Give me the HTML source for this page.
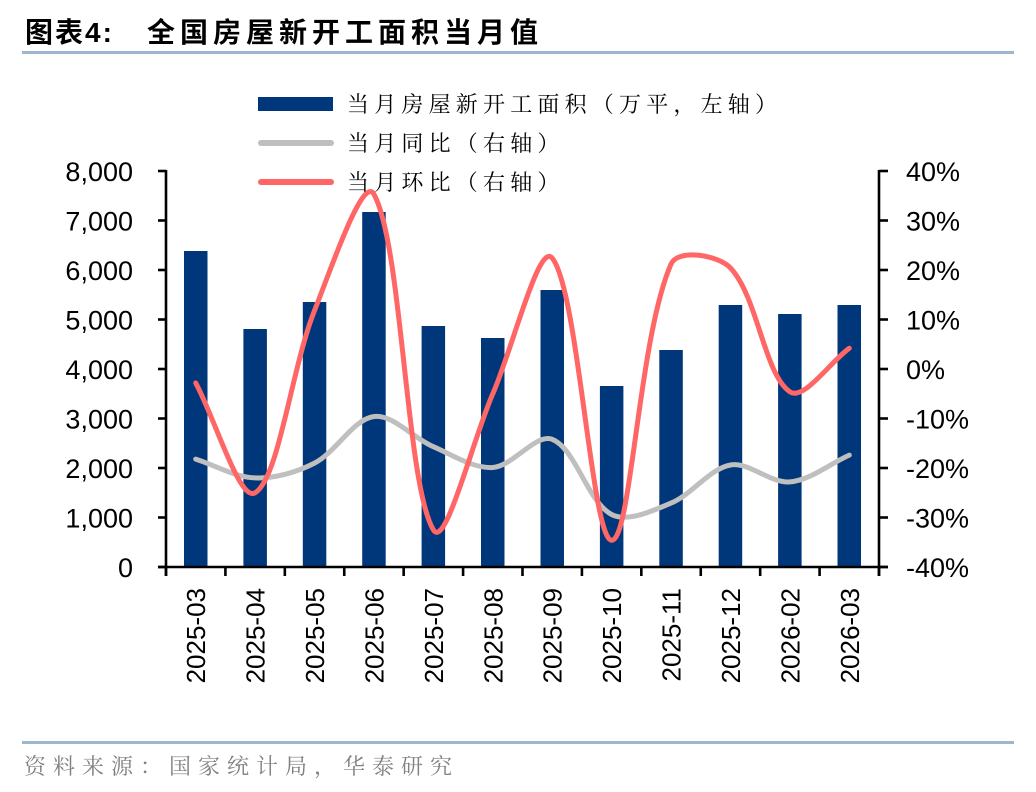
<!DOCTYPE html>
<html>
<head>
<meta charset="utf-8">
<style>
  html,body{margin:0;padding:0;background:#fff;}
  body{width:1036px;height:792px;overflow:hidden;}
  svg{display:block;}
  .ax{font-family:"Liberation Sans",Arial,sans-serif;font-size:27px;fill:#000;}
  .xl{font-family:"Liberation Sans",Arial,sans-serif;font-size:26px;fill:#000;}
  .lg{font-family:"Liberation Serif","Noto Serif CJK SC",serif;font-size:22px;letter-spacing:5.2px;fill:#000;}
  .tt{font-family:"Liberation Sans","Noto Sans CJK SC",sans-serif;font-size:28px;font-weight:700;fill:#000;}
  .src{font-family:"Liberation Serif","Noto Serif CJK SC",serif;font-size:22px;letter-spacing:7px;fill:#808080;}
</style>
</head>
<body>
<svg id="chart" width="1036" height="792" viewBox="0 0 1036 792" xmlns="http://www.w3.org/2000/svg">
  <!-- Title -->
  <text class="tt" x="25" y="42" style="letter-spacing:2px">图表4:</text>
  <text class="tt" x="147" y="42" style="letter-spacing:5px">全国房屋新开工面积当月值</text>
  <rect x="22" y="51" width="992" height="3" fill="#9FB6D0"/>

  <!-- Bars -->
  <g id="bars" fill="#00377A"></g>

  <!-- Lines -->
  <path id="gray" fill="none" stroke="#BFBFBF" stroke-width="5" stroke-linecap="round" stroke-linejoin="round"/>
  <path id="red" fill="none" stroke="#FF6666" stroke-width="5" stroke-linecap="round" stroke-linejoin="round"/>

  <!-- Axes -->
  <g stroke="#000" stroke-width="2.6" fill="none" id="axes">
    <line x1="166" y1="170" x2="166" y2="576"/>
    <line x1="879" y1="170" x2="879" y2="576"/>
    <line x1="158" y1="567" x2="888" y2="567"/>
  </g>
  <g id="ticks" stroke="#000" stroke-width="2.6"></g>

  <!-- Left labels -->
  <g class="ax" text-anchor="end">
    <text x="133" y="181">8,000</text>
    <text x="133" y="230.5">7,000</text>
    <text x="133" y="280">6,000</text>
    <text x="133" y="329.5">5,000</text>
    <text x="133" y="379">4,000</text>
    <text x="133" y="428.5">3,000</text>
    <text x="133" y="478">2,000</text>
    <text x="133" y="527.5">1,000</text>
    <text x="133" y="577">0</text>
  </g>
  <!-- Right labels -->
  <g class="ax" text-anchor="start">
    <text x="906" y="181">40%</text>
    <text x="906" y="230.5">30%</text>
    <text x="906" y="280">20%</text>
    <text x="906" y="329.5">10%</text>
    <text x="906" y="379">0%</text>
    <text x="906" y="428.5">-10%</text>
    <text x="906" y="478">-20%</text>
    <text x="906" y="527.5">-30%</text>
    <text x="906" y="577">-40%</text>
  </g>

  <!-- X labels -->
  <g id="xlabels" class="xl"></g>

  <!-- Legend -->
  <rect x="258" y="97" width="75" height="14" fill="#00377A"/>
  <line x1="261" y1="143" x2="331" y2="143" stroke="#BFBFBF" stroke-width="6" stroke-linecap="round"/>
  <line x1="261" y1="182" x2="331" y2="182" stroke="#FF6666" stroke-width="6" stroke-linecap="round"/>
  <text class="lg" x="347" y="112">当月房屋新开工面积（万平，左轴）</text>
  <text class="lg" x="347" y="151">当月同比（右轴）</text>
  <text class="lg" x="347" y="190">当月环比（右轴）</text>

  <!-- Source -->
  <rect x="22" y="741" width="992" height="3" fill="#9FB6D0"/>
  <text class="src" x="24" y="774">资料来源：国家统计局，华泰研究</text>
</svg>
<script>
(function(){
  var NS="http://www.w3.org/2000/svg";
  var X0=166, W=713/12, Y0=567;
  var cats=["2025-03","2025-04","2025-05","2025-06","2025-07","2025-08","2025-09","2025-10","2025-11","2025-12","2026-02","2026-03"];
  var bars=[6384,4808,5354,7172,4869,4626,5596,3657,4384,5293,5111,5293];
  var gray=[-18.2,-22.0,-19.0,-9.6,-15.7,-19.9,-14.2,-29.4,-27.1,-19.4,-22.8,-17.4];
  var red=[-2.8,-25.0,11.8,35.3,-32.5,-5.0,22.4,-34.6,21.2,20.4,-4.6,4.2];
  function cx(i){return X0+(i+0.5)*W;}
  function yL(v){return Y0-v*0.0495;}
  function yR(v){return 369-v*4.95;}
  var gb=document.getElementById("bars");
  bars.forEach(function(v,i){
    var r=document.createElementNS(NS,"rect");
    var bw=23.5;
    r.setAttribute("x",(cx(i)-bw/2).toFixed(1));
    r.setAttribute("y",yL(v).toFixed(1));
    r.setAttribute("width",bw);
    r.setAttribute("height",(Y0-yL(v)).toFixed(1));
    gb.appendChild(r);
  });
  var gt=document.getElementById("ticks");
  function ln(x1,y1,x2,y2){var l=document.createElementNS(NS,"line");l.setAttribute("x1",x1);l.setAttribute("y1",y1);l.setAttribute("x2",x2);l.setAttribute("y2",y2);gt.appendChild(l);}
  for(var k=0;k<=12;k++){var x=X0+k*W;ln(x,567,x,576);}
  for(var j=0;j<=8;j++){var y=171+j*49.5;ln(158,y,166,y);ln(879,y,888,y);}
  var gx=document.getElementById("xlabels");
  cats.forEach(function(c,i){
    var t=document.createElementNS(NS,"text");
    var x=cx(i)+9.5, y=588;
    t.setAttribute("transform","translate("+x.toFixed(1)+","+y+") rotate(-90)");
    t.setAttribute("text-anchor","end");
    t.textContent=c;
    gx.appendChild(t);
  });
  function dist(a,b){return Math.hypot(a[0]-b[0],a[1]-b[1]);}
  function smooth(p){
    var d="M"+p[0][0].toFixed(1)+","+p[0][1].toFixed(1);
    var n=p.length,k=1/3;
    for(var i=0;i<n-1;i++){
      var p0=p[i-1]||p[i],p1=p[i],p2=p[i+1],p3=p[i+2]||p[i+1];
      var d01=dist(p0,p1),d12=dist(p1,p2),d23=dist(p2,p3);
      var f1=d12/(d01+d12),f2=d12/(d12+d23);
      var c1=[p1[0]+(p2[0]-p0[0])*k*f1,p1[1]+(p2[1]-p0[1])*k*f1];
      var c2=[p2[0]-(p3[0]-p1[0])*k*f2,p2[1]-(p3[1]-p1[1])*k*f2];
      d+=" C"+c1[0].toFixed(1)+","+c1[1].toFixed(1)+" "+c2[0].toFixed(1)+","+c2[1].toFixed(1)+" "+p2[0].toFixed(1)+","+p2[1].toFixed(1);
    }
    return d;
  }
  document.getElementById("gray").setAttribute("d",smooth(gray.map(function(v,i){return [cx(i),yR(v)];})));
  document.getElementById("red").setAttribute("d",smooth(red.map(function(v,i){return [cx(i),yR(v)];})));
})();
</script>
</body>
</html>
